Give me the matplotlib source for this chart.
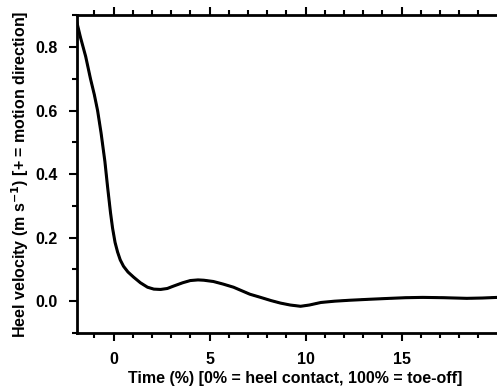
import matplotlib
matplotlib.use("Agg")
import matplotlib.pyplot as plt
from matplotlib.ticker import MultipleLocator, FormatStrFormatter

plt.rcParams['font.family'] = ['Liberation Sans', 'DejaVu Sans']
plt.rcParams['font.weight'] = 'bold'

# heel velocity trace
time_pct = [-1.9, -1.72, -1.45, -1.2, -1.0, -0.83, -0.65, -0.45, -0.31, -0.16,
            -0.05, 0.08, 0.21, 0.35, 0.52, 0.75, 1.04, 1.4, 1.77, 2.1, 2.45, 2.8,
            3.1, 3.6, 4.0, 4.4, 4.7, 5.2, 5.7, 6.25, 7.1, 7.66, 8.2, 8.7, 9.2,
            9.74, 10.2, 10.8, 11.5, 12.3, 13.3, 14.4, 15.2, 16.1, 17.2, 18.4,
            19.2, 20.0]
heel_vel = [0.875, 0.83, 0.77, 0.70, 0.65, 0.60, 0.53, 0.44, 0.36, 0.28,
            0.23, 0.185, 0.155, 0.13, 0.11, 0.092, 0.076, 0.058, 0.044, 0.038,
            0.037, 0.040, 0.047, 0.058, 0.065, 0.067, 0.066, 0.062, 0.054,
            0.044, 0.022, 0.012, 0.002, -0.006, -0.012, -0.016, -0.012, -0.004,
            0.0, 0.003, 0.006, 0.009, 0.011, 0.012, 0.011, 0.009, 0.010, 0.012]

fig = plt.figure(figsize=(4.97, 3.89), dpi=100)
ax = fig.add_axes([0.155, 0.144, 0.845, 0.817])

ax.plot(time_pct, heel_vel, color='black', lw=2.2, solid_joinstyle='round')
ax.plot(time_pct, heel_vel, color='black', lw=1.2, ls='--', dashes=(4, 2))

ax.set_xlim(-1.9, 19.97)
ax.set_ylim(-0.1, 0.9)
ax.xaxis.set_major_locator(MultipleLocator(5))
ax.xaxis.set_minor_locator(MultipleLocator(1))
ax.yaxis.set_major_locator(MultipleLocator(0.2))
ax.yaxis.set_minor_locator(MultipleLocator(0.1))
ax.yaxis.set_major_formatter(FormatStrFormatter('%.1f'))

ax.tick_params(which='both', direction='out', width=1.5, labelsize=11.5,
               top=True, right=False, pad=8)
ax.tick_params(which='major', length=6)
ax.tick_params(which='minor', length=3.5)
for s in ['left', 'bottom', 'top']:
    ax.spines[s].set_linewidth(2)
ax.spines['right'].set_visible(False)

ax.set_xlabel('Time (%) [0% = heel contact, 100% = toe-off]', fontsize=11.5,
              fontweight='bold')
ax.xaxis.set_label_coords(0.52, -0.12)
ax.set_ylabel('Heel velocity (m s$^{-1}$) [+ = motion direction]', fontsize=11.5,
              fontweight='bold', labelpad=3)

fig.savefig('out.png', dpi=100)
